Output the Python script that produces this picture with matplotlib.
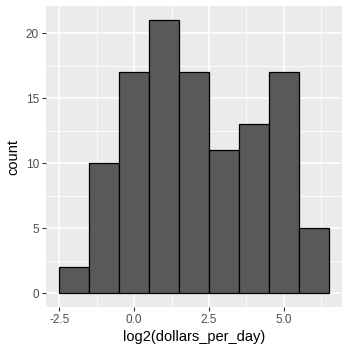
import numpy as np
import matplotlib.pyplot as plt
from matplotlib.ticker import MultipleLocator

plt.rcParams['font.family'] = ['Liberation Sans', 'DejaVu Sans']

bin_edges = [-2.5, -1.5, -0.5, 0.5, 1.5, 2.5, 3.5, 4.5, 5.5, 6.5]
counts = [2, 10, 17, 21, 17, 11, 13, 17, 5]
x_ticks = [-2.5, 0.0, 2.5, 5.0]
y_ticks = [0, 5, 10, 15, 20]

W, H = 350, 353
fig = plt.figure(figsize=(W / 100, H / 100), dpi=100)
ax = fig.add_axes([46 / W, (H - 306.7) / H, (342 - 46) / W, (306.7 - 6.4) / H])

ax.set_facecolor('#EBEBEB')
for s in ax.spines.values():
    s.set_visible(False)

lefts = np.array(bin_edges[:-1])
widths = np.diff(bin_edges)
ax.bar(lefts, counts, width=widths, align='edge', color='#595959',
       edgecolor='black', linewidth=0.9, zorder=3)

xmin, xmax = bin_edges[0], bin_edges[-1]
xpad = (xmax - xmin) * 0.05
ax.set_xlim(xmin - xpad, xmax + xpad)
ymax = max(counts)
ax.set_ylim(-ymax * 0.05, ymax * 1.05)

ax.set_xticks(x_ticks)
ax.set_xticklabels([f'{v:.1f}' for v in x_ticks])
ax.set_yticks(y_ticks)
ax.xaxis.set_minor_locator(MultipleLocator(1.25))
ax.xaxis.set_minor_locator(plt.FixedLocator([-1.25, 1.25, 3.75, 6.25]))
ax.yaxis.set_minor_locator(plt.FixedLocator([2.5, 7.5, 12.5, 17.5]))

ax.grid(which='major', color='white', linewidth=1.1, zorder=0)
ax.grid(which='minor', color='white', linewidth=0.55, zorder=0)
ax.set_axisbelow(True)

ax.tick_params(which='major', length=3, width=0.8, color='#333333',
               labelcolor='#4D4D4D', labelsize=8.5, pad=2)
ax.tick_params(which='minor', length=0)

ax.set_xlabel('log2(dollars_per_day)', fontsize=10.5, color='black', labelpad=3)
ax.set_ylabel('count', fontsize=10.5, color='black', labelpad=4)

fig.savefig('out.png', dpi=100)
